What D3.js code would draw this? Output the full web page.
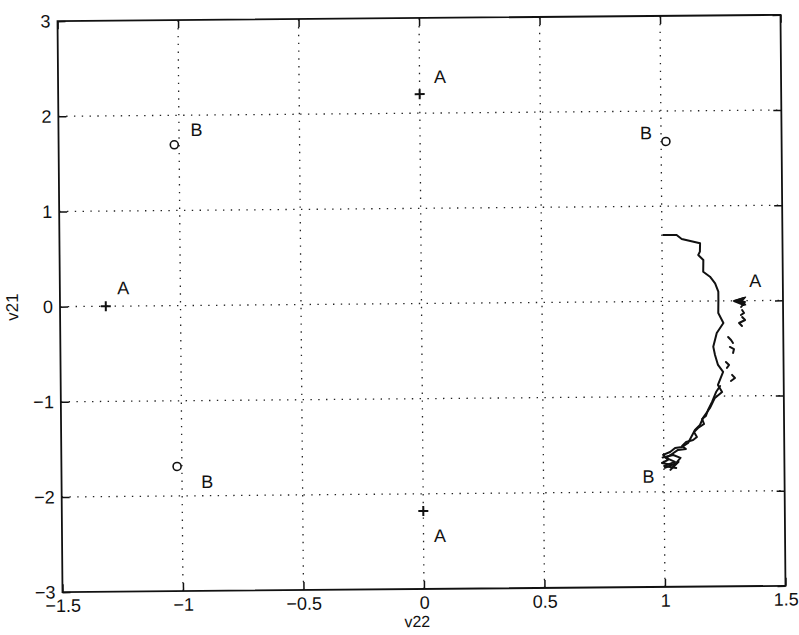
<!DOCTYPE html>
<html>
<head>
<meta charset="utf-8">
<script src="https://cdn.jsdelivr.net/npm/d3@7"></script>
<style>
  html, body { margin: 0; padding: 0; background: #fff; }
  svg { display: block; }
  text { font-family: "Liberation Sans", Arial, Helvetica, sans-serif; fill: #111; }
</style>
</head>
<body>
<svg id="chart" width="799" height="635"></svg>
<script>
// Axis ticks and their labels
const xTicks = [-1.5, -1, -0.5, 0, 0.5, 1, 1.5];
const xTickLabels = ["\u22121.5", "\u22121", "\u22120.5", "0", "0.5", "1", "1.5"];
const yTicks = [-3, -2, -1, 0, 1, 2, 3];
const yTickLabels = ["\u22123", "\u22122", "\u22121", "0", "1", "2", "3"];

// Equilibrium points of type A (plus) and B (circle)
const pointsA = [[-1.31, 0.0], [0.0, 2.2], [0.0, -2.18]];
const pointsB = [[-1.02, 1.69], [-1.02, -1.69], [1.02, 1.68]];

// Point labels [text, v22, v21]
const labels = [
  ["A", -1.237, 0.187], ["A", 0.085, 2.38], ["A", 0.068, -2.444],
  ["B", -0.927, 1.843], ["B", -0.896, -1.855], ["B", 0.938, 1.770],
  ["A", 1.385, 0.206], ["B", 0.935, -1.840]
];

// Trajectory running from near v21 = 0.7 down to B
const trajMain = [
  [1.006, 0.697], [1.061, 0.696], [1.082, 0.654], [1.158, 0.607], [1.157, 0.519],
  [1.150, 0.484], [1.171, 0.431], [1.170, 0.308], [1.198, 0.255], [1.219, 0.185],
  [1.232, 0.097], [1.232, 0.010], [1.231, -0.127], [1.252, -0.232], [1.224, -0.337],
  [1.209, -0.480], [1.216, -0.568], [1.228, -0.673], [1.249, -0.747], [1.227, -0.883],
  [1.244, -0.957], [1.214, -1.019], [1.193, -1.124], [1.164, -1.228], [1.151, -1.302],
  [1.130, -1.354], [1.101, -1.490], [1.076, -1.531], [1.047, -1.541], [1.026, -1.583],
  [0.997, -1.613], [1.017, -1.666], [0.992, -1.698], [1.034, -1.719], [1.004, -1.749],
  [1.061, -1.687], [1.027, -1.771], [1.069, -1.646], [1.039, -1.615], [0.995, -1.640]
];

// Arrowhead where the second trajectory starts at A (1.3, 0)
const arrowA = [[1.297, 0.0], [1.345, 0.038], [1.332, 0.0], [1.345, -0.045]];

// Trajectory leaving A: broken pieces near A, then a continuous strand to B
const trajFromA = [
  [[1.338, 0.028], [1.297, -0.002], [1.338, -0.045], [1.309, -0.003], [1.342, -0.014], [1.326, -0.066]],
  [[1.330, -0.098], [1.338, -0.129], [1.325, -0.150]],
  [[1.330, -0.171], [1.342, -0.203], [1.317, -0.234], [1.329, -0.266]],
  [[1.271, -0.380], [1.283, -0.412], [1.291, -0.443]],
  [[1.278, -0.485], [1.295, -0.507], [1.291, -0.549]],
  [[1.261, -0.642], [1.274, -0.674], [1.265, -0.705]],
  [[1.286, -0.779], [1.298, -0.811], [1.281, -0.842]],
  [[1.236, -0.894], [1.219, -0.957], [1.202, -1.061], [1.185, -1.145], [1.176, -1.208],
   [1.160, -1.239], [1.168, -1.292], [1.143, -1.333], [1.126, -1.375], [1.138, -1.428],
   [1.122, -1.459], [1.093, -1.479], [1.076, -1.521], [1.092, -1.553], [1.059, -1.562],
   [1.034, -1.604], [1.009, -1.645], [1.046, -1.687], [1.001, -1.729], [1.051, -1.751]]
];

const svg = d3.select("#chart");
const margin = { left: 60, right: 16, top: 18, bottom: 46 };
const W = 799, H = 635;
const x = d3.scaleLinear().domain([-1.5, 1.5]).range([margin.left, W - margin.right]);
const y = d3.scaleLinear().domain([-3, 3]).range([H - margin.bottom, margin.top]);

const cx = (margin.left + W - margin.right) / 2;
const cy = (margin.top + H - margin.bottom) / 2;
const g = svg.append("g").attr("transform", `rotate(-0.5, ${cx}, ${cy})`);

// Dotted grid
const grid = g.append("g").attr("stroke", "#222").attr("stroke-width", 1.3)
  .attr("stroke-dasharray", "1.4,6.4").attr("fill", "none");
grid.selectAll(".gx").data(xTicks.slice(1, -1)).join("line")
  .attr("x1", d => x(d)).attr("x2", d => x(d))
  .attr("y1", y(-3)).attr("y2", y(3));
grid.selectAll(".gy").data(yTicks.slice(1, -1)).join("line")
  .attr("y1", d => y(d)).attr("y2", d => y(d))
  .attr("x1", x(-1.5)).attr("x2", x(1.5));

// Axes with inward ticks
const fs = 18;
const xAxis = d3.axisBottom(x).tickValues(xTicks)
  .tickFormat((d, i) => xTickLabels[i]).tickSizeInner(-8).tickSizeOuter(0).tickPadding(7);
const yAxis = d3.axisLeft(y).tickValues(yTicks)
  .tickFormat((d, i) => yTickLabels[i]).tickSizeInner(-8).tickSizeOuter(0).tickPadding(7);
const xg = g.append("g").attr("transform", `translate(0,${y(-3)})`).call(xAxis);
const yg = g.append("g").attr("transform", `translate(${x(-1.5)},0)`).call(yAxis);
// Matching inward ticks on the top and right edges
const xg2 = g.append("g").attr("transform", `translate(0,${y(3)})`)
  .call(d3.axisTop(x).tickValues(xTicks).tickFormat("").tickSizeInner(-8).tickSizeOuter(0));
const yg2 = g.append("g").attr("transform", `translate(${x(1.5)},0)`)
  .call(d3.axisRight(y).tickValues(yTicks).tickFormat("").tickSizeInner(-8).tickSizeOuter(0));
[xg, yg, xg2, yg2].forEach(a => {
  a.selectAll(".domain").remove();
  a.selectAll("line").attr("stroke", "#111").attr("stroke-width", 1.5);
  a.selectAll("text").style("font-size", fs + "px").attr("fill", "#111");
});

// Frame
g.append("rect")
  .attr("x", x(-1.5)).attr("y", y(3))
  .attr("width", x(1.5) - x(-1.5)).attr("height", y(-3) - y(3))
  .attr("fill", "none").attr("stroke", "#111").attr("stroke-width", 1.8);

// Axis titles
g.append("text").attr("x", x(0) - 7).attr("y", y(-3) + 38)
  .attr("text-anchor", "middle").style("font-size", "16px").text("v22");
g.append("text")
  .attr("transform", `translate(${x(-1.5) - 42},${y(0)}) rotate(-90)`)
  .attr("text-anchor", "middle").style("font-size", "17px").text("v21");

// Trajectories
const line = d3.line().x(d => x(d[0])).y(d => y(d[1]));
g.append("path").datum(trajMain).attr("d", line)
  .attr("fill", "none").attr("stroke", "#111").attr("stroke-width", 2)
  .attr("stroke-linejoin", "round").attr("stroke-linecap", "round");
g.selectAll(".seg").data(trajFromA).join("path").attr("d", line)
  .attr("fill", "none").attr("stroke", "#111").attr("stroke-width", 2)
  .attr("stroke-linejoin", "round").attr("stroke-linecap", "round");
g.append("path").datum(arrowA).attr("d", d => line(d) + "Z")
  .attr("fill", "#111").attr("stroke", "#111").attr("stroke-width", 1.2)
  .attr("stroke-linejoin", "round");

// A markers (plus)
const plus = g.append("g").attr("stroke", "#111").attr("stroke-width", 2);
pointsA.forEach(p => {
  plus.append("line").attr("x1", x(p[0]) - 5).attr("x2", x(p[0]) + 5)
    .attr("y1", y(p[1])).attr("y2", y(p[1]));
  plus.append("line").attr("x1", x(p[0])).attr("x2", x(p[0]))
    .attr("y1", y(p[1]) - 5).attr("y2", y(p[1]) + 5);
});

// B markers (circle)
g.selectAll(".mb").data(pointsB).join("circle")
  .attr("cx", d => x(d[0])).attr("cy", d => y(d[1])).attr("r", 4)
  .attr("fill", "none").attr("stroke", "#111").attr("stroke-width", 1.6);

// Labels
g.selectAll(".lbl").data(labels).join("text")
  .attr("x", d => x(d[1])).attr("y", d => y(d[2]))
  .attr("text-anchor", "middle").attr("dominant-baseline", "central")
  .style("font-size", "18px").text(d => d[0]);
</script>
</body>
</html>
